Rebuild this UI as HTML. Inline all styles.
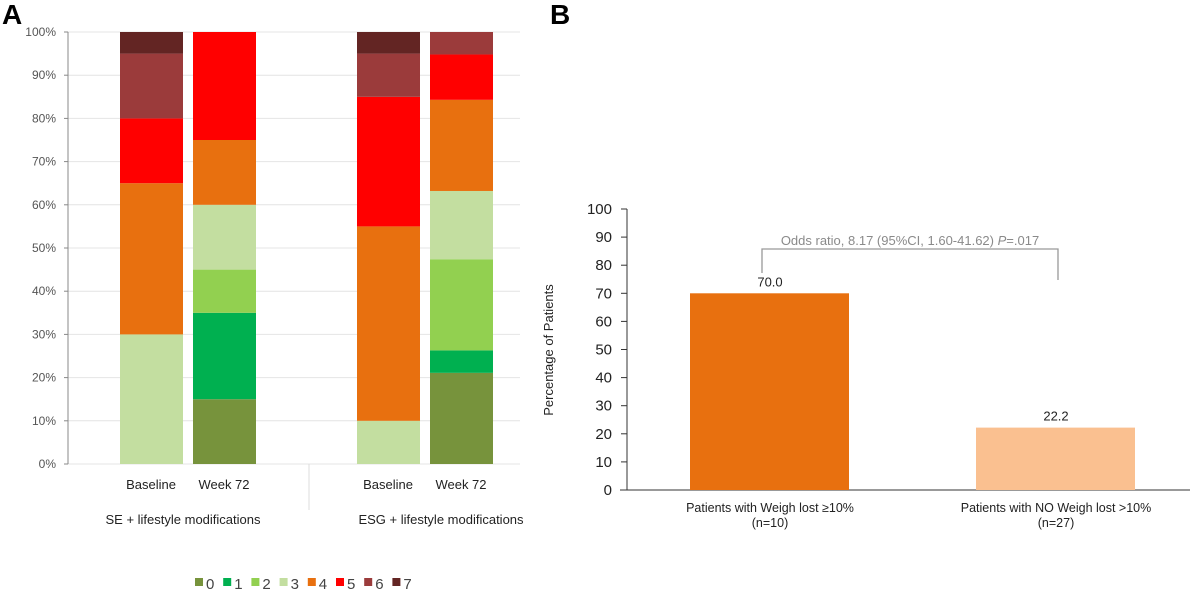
<!DOCTYPE html>
<html><head><meta charset="utf-8"><style>
html,body{margin:0;padding:0;background:#fff;}
svg{display:block;font-family:"Liberation Sans",sans-serif;}
</style></head><body>
<svg id="c" width="1200" height="598" viewBox="0 0 1200 598" xmlns="http://www.w3.org/2000/svg">
<text x="2" y="24" font-size="28" font-weight="bold">A</text>
<text x="550" y="24" font-size="28" font-weight="bold">B</text>
<g id="pa"></g>
<g id="pb"></g>
</svg>
<script>
const scoreLabels = ['0','1','2','3','4','5','6','7'];
const scoreColors = ['#77933C','#00B050','#92D050','#C3DEA0','#E8700F','#FF0000','#9B3B3B','#632523'];
const barNames = ['SE Baseline','SE Week 72','ESG Baseline','ESG Week 72'];
const seBaseline = [0,0,0,30,35,15,15,5];
const seWeek72 = [15,20,10,15,15,25,0,0];
const esgBaseline = [0,0,0,10,45,30,10,5];
const esgWeek72 = [21.1,5.2,21.1,15.8,21.1,10.5,5.2,0];
const aTicks = [0,10,20,30,40,50,60,70,80,90,100];

const bCategories = ['Patients with Weigh lost ≥10%','Patients with NO Weigh lost >10%'];
const bCounts = ['(n=10)','(n=27)'];
const bValues = [70.0,22.2];
const bTicks = [0,10,20,30,40,50,60,70,80,90,100];

const NS='http://www.w3.org/2000/svg';
function mk(tag,attrs,parent,txt){const e=document.createElementNS(NS,tag);for(const k in attrs)e.setAttribute(k,attrs[k]);if(txt!==undefined)e.textContent=txt;parent.appendChild(e);return e;}

// Panel A
const pa=document.getElementById('pa');
const ay=v=>464-v*4.32;
aTicks.forEach(t=>{
  const g=mk('line',{x1:68,x2:520,y1:ay(t),y2:ay(t),stroke:'#e4e4e4','stroke-width':1},pa);
  
  
  const tk=mk('line',{x1:64,x2:68,y1:ay(t),y2:ay(t),stroke:'#888'},pa);
  
  
  const l=mk('text',{x:56,y:ay(t)+4,'font-size':12,fill:'#555','text-anchor':'end'},pa,t+'%');
  
  
});
const ax=mk('line',{x1:68,x2:68,y1:ay(100),y2:ay(0),stroke:'#888'},pa);


const sep=mk('line',{x1:309,x2:309,y1:464,y2:510,stroke:'#ddd'},pa);


const aSeries=[seBaseline,seWeek72,esgBaseline,esgWeek72];
const aX=[120,193,357,430];
const aLab=['Baseline','Week 72','Baseline','Week 72'];
aSeries.forEach((s,i)=>{
  let cum=0;
  s.forEach((v,k)=>{
    if(v<=0)return;
    const r=mk('rect',{x:aX[i],y:ay(cum+v),width:63,height:v*4.32,fill:scoreColors[k]},pa);
    
    
    cum+=v;
  });
  const t=mk('text',{x:aX[i]+31,y:489,'font-size':13,'text-anchor':'middle',fill:'#222'},pa,aLab[i]);
  
  
});
const g1=mk('text',{x:183,y:524,'font-size':13,'text-anchor':'middle',fill:'#222'},pa,'SE + lifestyle modifications');


const g2=mk('text',{x:441,y:524,'font-size':13,'text-anchor':'middle',fill:'#222'},pa,'ESG + lifestyle modifications');


scoreLabels.forEach((s,k)=>{
  const x=195+k*28.2;
  const r=mk('rect',{x:x,y:578,width:8,height:8,fill:scoreColors[k]},pa);
  
  
  const t=mk('text',{x:x+11,y:589,'font-size':15,fill:'#444'},pa,s);
  
  
});

// Panel B
const pb=document.getElementById('pb');
const by=v=>490-v*2.81;
bTicks.forEach(t=>{
  const tk=mk('line',{x1:621,x2:627,y1:by(t),y2:by(t),stroke:'#333'},pb);
  
  
  const l=mk('text',{x:612,y:by(t)+5,'font-size':15,fill:'#222','text-anchor':'end'},pb,t);
  
  
});
const bax=mk('line',{x1:627,x2:627,y1:by(100),y2:by(0),stroke:'#333'},pb);


const bxx=mk('line',{x1:620,x2:1190,y1:by(0),y2:by(0),stroke:'#333'},pb);


const yt=mk('text',{x:0,y:0,'font-size':13,fill:'#222','text-anchor':'middle',transform:'translate(553,350) rotate(-90)'},pb,'Percentage of Patients');


const bX=[690,976], bCol=['#E8700F','#FAC090'];
bValues.forEach((v,i)=>{
  const r=mk('rect',{x:bX[i],y:by(v),width:159,height:v*2.81,fill:bCol[i]},pb);
  
  
  const vl=mk('text',{x:bX[i]+80,y:by(v)-7,'font-size':13,'text-anchor':'middle',fill:'#222'},pb,v.toFixed(1));
  
  
  const c=mk('text',{x:bX[i]+80,y:512,'font-size':12.5,'text-anchor':'middle',fill:'#222'},pb,bCategories[i]);
  
  
  const n=mk('text',{x:bX[i]+80,y:527,'font-size':12.5,'text-anchor':'middle',fill:'#222'},pb,bCounts[i]);
  
  
});
const br=mk('path',{d:'M762 273 V249 H1058 V280',fill:'none',stroke:'#999','stroke-width':1.3},pb);


const ot=mk('text',{x:910,y:245,'font-size':13,'text-anchor':'middle',fill:'#8a8a8a'},pb);


ot.innerHTML='Odds ratio, 8.17 (95%CI, 1.60-41.62) <tspan font-style="italic">P</tspan>=.017';
</script>
</body></html>
